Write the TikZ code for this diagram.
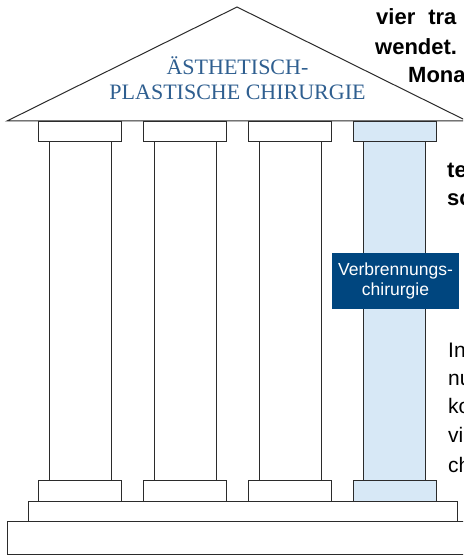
\documentclass[tikz,border=0pt]{standalone}
\usepackage{fontspec}
\setmainfont{Liberation Serif}
\newfontfamily\bodysans{Liberation Sans}
\definecolor{edge}{HTML}{2B2B2B}
\definecolor{roofblue}{HTML}{2F5F90}
\definecolor{paleblue}{HTML}{D7E8F6}
\definecolor{deepblue}{HTML}{00467F}
\begin{document}
\begin{tikzpicture}[x=1pt,y=-1pt,
  part/.style={draw=edge, line width=1pt, fill=white},
  bluepart/.style={draw=edge, line width=1pt, fill=paleblue},
  rooftext/.style={inner sep=0pt, anchor=base, text=roofblue,
    font=\fontsize{22}{25}\selectfont},
  boldcut/.style={inner sep=0pt, anchor=base west,
    font=\bodysans\bfseries\fontsize{22}{28}\selectfont},
  plaincut/.style={inner sep=0pt, anchor=base west,
    font=\bodysans\fontsize{21}{28}\selectfont},
  tag/.style={fill=deepblue, text=white, align=center, inner sep=0pt,
    minimum width=127pt, minimum height=56pt,
    font=\bodysans\fontsize{17.5}{20}\selectfont}]
\useasboundingbox (0,0) rectangle (463,556);
\clip (0,0) rectangle (463,556);

% steps of the temple floor
\draw[part] (7,521) rectangle (470,554);
\draw[part] (28,501) rectangle (457,521);

% three plain pillars: capital, shaft, base
\foreach \x/\n in {38/1,143/2,248/3}{
  \draw[part] (\x+11,142) rectangle (\x+73,480);
  \draw[part] (\x,122) rectangle +(83,20);
  \draw[part] (\x,480) rectangle +(83,21);
}
% highlighted fourth pillar
\draw[bluepart] (363,142) rectangle (425,480);
\draw[bluepart] (353,122) rectangle +(83,20);
\draw[bluepart] (353,480) rectangle +(83,21);

% roof
\draw[part, line join=miter] (7,121) -- (237,7) -- (467,121) -- cycle;
\node[rooftext] (roof1) at (237.5,75) {ÄSTHETISCH-};
\node[rooftext] (roof2) at (237.5,100) {PLASTISCHE CHIRURGIE};

% label on the fourth pillar
\node[tag] (burn) at (395.5,281) {Verbrennungs-\\chirurgie};

% running text beside the temple
\node[boldcut] (t1) at (376,25) {vier\hspace{13pt}tra};
\node[boldcut] (t2) at (375,55) {wendet.};
\node[boldcut] (t3) at (408,83) {Mona};
\node[boldcut] (t4) at (447,177) {te};
\node[boldcut] (t5) at (447,205) {sc};
\node[plaincut] (p1) at (448,357) {In};
\node[plaincut] (p2) at (448,385) {nu};
\node[plaincut] (p3) at (448,413) {ko};
\node[plaincut] (p4) at (448,442) {vi};
\node[plaincut] (p5) at (448,472) {ch};
\end{tikzpicture}
\end{document}
